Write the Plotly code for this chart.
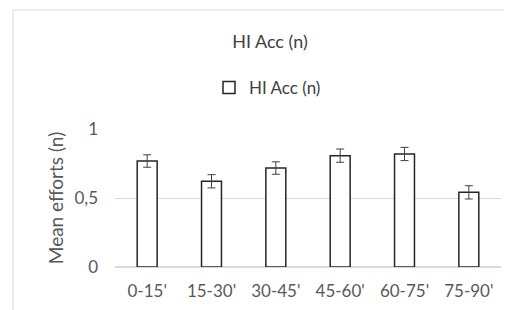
import plotly.graph_objects as go

categories = ["0-15'", "15-30'", "30-45'", "45-60'", "60-75'", "75-90'"]
values = [0.768, 0.621, 0.717, 0.807, 0.819, 0.541]
errors = [0.045, 0.048, 0.045, 0.048, 0.048, 0.048]
series_name = "HI Acc (n)"

FONT = "Lato"
TXT = "#595959"

fig = go.Figure()
fig.add_trace(go.Bar(
    x=categories, y=values, name=series_name,
    marker=dict(color="white", line=dict(color="#262626", width=1.5)),
    width=0.31,
    error_y=dict(type="data", array=errors, visible=True, color="#404040",
                 thickness=1, width=4),
    showlegend=True,
))

# page body has an 8px default margin, so the figure is 8px smaller
W, H = 504, 302
L, R, T, B = 107, 11, 121, 43
pw, ph = W - L - R, H - T - B

fig.update_layout(
    width=W, height=H,
    margin=dict(l=L, r=R, t=T, b=B, autoexpand=False),
    paper_bgcolor="white", plot_bgcolor="white",
    separators=",.",
    font=dict(family=FONT, color=TXT, size=17),
    title=dict(text="HI Acc (n)", x=262 / W, xanchor="center",
               y=1 - 34 / H, yanchor="middle",
               font=dict(family=FONT, size=18, color="#404040")),
    legend=dict(orientation="h", x=(201 - L) / pw, xanchor="left",
                y=(H - B - 80) / ph, yanchor="middle",
                font=dict(family=FONT, size=17, color="#404040"),
                bgcolor="rgba(0,0,0,0)"),
    showlegend=True,
    xaxis=dict(showgrid=False, showline=False, ticks="outside",
               ticklen=9, tickcolor="rgba(0,0,0,0)", automargin=False,
               tickfont=dict(size=17, color=TXT)),
    yaxis=dict(range=[0, 1], tickvals=[0, 0.5, 1], showgrid=True,
               gridcolor="#d9d9d9", gridwidth=1, zeroline=True,
               zerolinecolor="#d9d9d9", showline=False, ticks="",
               ticklabelstandoff=16, automargin=False,
               tickfont=dict(size=17, color=TXT),
               title=dict(text="Mean efforts (n)", standoff=5,
                          font=dict(size=19, color=TXT))),
)

# chart border (left and top edges visible)
bx = (5 - L) / pw
by = (H - B - 2) / ph
fig.add_shape(type="line", xref="paper", yref="paper",
              x0=bx, x1=bx, y0=by, y1=-1, line=dict(color="#d9d9d9", width=1))
fig.add_shape(type="line", xref="paper", yref="paper",
              x0=bx, x1=1.2, y0=by, y1=by, line=dict(color="#d9d9d9", width=1))

fig.write_html("out.html")
